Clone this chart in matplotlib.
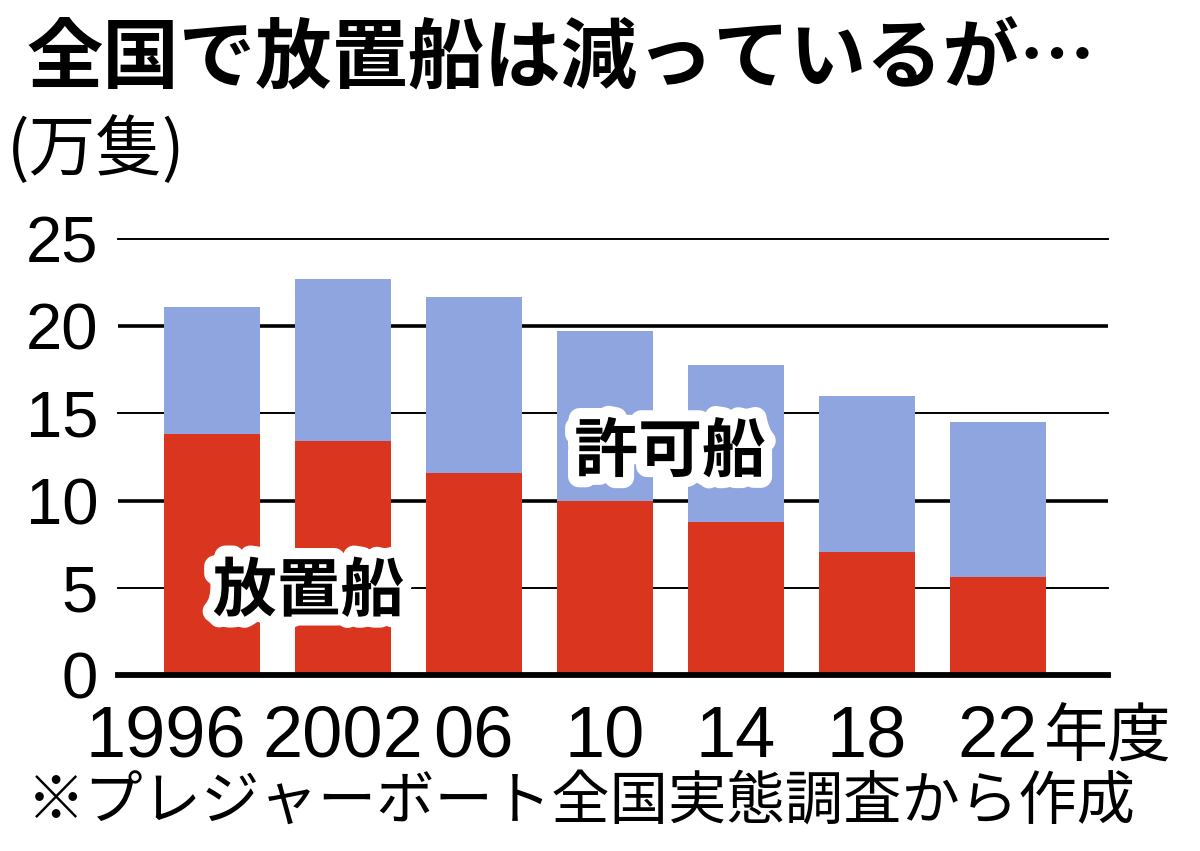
import matplotlib.pyplot as plt
import matplotlib.patheffects as pe
import numpy as np

plt.rcParams['font.family'] = ['Noto Sans CJK JP', 'DejaVu Sans']

years = ["1996", "2002", "06", "10", "14", "18", "22"]
abandoned = [13.8, 13.4, 11.6, 10.0, 8.8, 7.05, 5.6]   # 放置船
permitted = [7.3, 9.3, 10.1, 9.7, 9.0, 8.95, 8.9]     # 許可船

RED = '#D9351F'
BLUE = '#8EA5E0'
NUM_FONT = ['Liberation Sans Narrow', 'Liberation Sans', 'DejaVu Sans']

fig = plt.figure(figsize=(12, 8.51), dpi=100)
ax = fig.add_axes([0.098, 0.2068, 0.825, 0.5124])

x = np.arange(len(years))
ax.bar(x, abandoned, width=0.733, color=RED, zorder=3)
ax.bar(x, permitted, width=0.733, bottom=abandoned, color=BLUE, zorder=3)

ax.set_xlim(-0.718, 6.84)
ax.set_ylim(0, 25)

# gridlines: thicker on 10s, heavy baseline
for v in [5, 15, 25]:
    ax.axhline(v, color='black', lw=1.4, zorder=1, clip_on=False)
for v in [10, 20]:
    ax.axhline(v, color='black', lw=2.6, zorder=1)
ax.axhline(0, color='black', lw=4.2, zorder=4, clip_on=False)

for s in ax.spines.values():
    s.set_visible(False)
ax.set_yticks([0, 5, 10, 15, 20, 25])
ax.set_yticklabels(['0', '5', '10', '15', '20', '25'], family=NUM_FONT, fontsize=47)
ax.tick_params(axis='y', length=0, pad=14)
ax.set_xticks([])

# x labels (first one sits a bit to the left)
offsets = [-0.35, 0, 0, 0, 0, 0, 0]
for xi, lab, off in zip(x, years, offsets):
    ax.text(xi + off, -1.7, lab, ha='center', va='top', fontsize=52,
            family=NUM_FONT, transform=ax.transData)
ax.text(6.35, -1.7, '年度', ha='left', va='top', fontsize=46, transform=ax.transData)

stroke = [pe.withStroke(linewidth=16, foreground='white')]
ax.text(0.74, 4.75, '放置船', ha='center', va='center', fontsize=46,
        fontweight='bold', zorder=6, path_effects=stroke)
ax.text(3.5, 12.75, '許可船', ha='center', va='center', fontsize=46,
        fontweight='bold', zorder=6, path_effects=stroke)

fig.text(0.022, 0.93, '全国で放置船は減っているが…', ha='left', va='center',
         fontsize=55, fontweight='bold')
fig.text(0.006, 0.823, '(万隻)', ha='left', va='center', fontsize=48)
fig.text(0.022, 0.058, '※プレジャーボート全国実態調査から作成', ha='left',
         va='center', fontsize=42)

fig.savefig('out.png', dpi=100)
